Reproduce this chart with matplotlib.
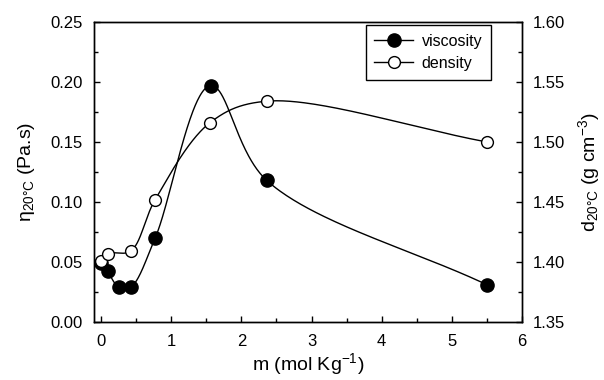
import numpy as np
import matplotlib
matplotlib.use('Agg')
import matplotlib.pyplot as plt
from matplotlib.lines import Line2D
from matplotlib.ticker import MultipleLocator

plt.rcParams['font.family'] = ['Liberation Sans', 'DejaVu Sans']
plt.rcParams['mathtext.fontset'] = 'custom'
plt.rcParams['mathtext.rm'] = 'Liberation Sans'
plt.rcParams['mathtext.default'] = 'regular'

# data
m_visc = [0.0, 0.09, 0.25, 0.42, 0.77, 1.56, 2.36, 5.5]
viscosity = [0.049, 0.042, 0.029, 0.029, 0.070, 0.197, 0.118, 0.031]

m_dens = [0.0, 0.10, 0.42, 0.77, 1.55, 2.36, 5.5]
density = [1.401, 1.407, 1.409, 1.452, 1.516, 1.534, 1.500]


def catmull(x, y, sx, sy, n=80, alpha=0.5):
    # centripetal catmull-rom through the points, measured in screen units
    P = np.column_stack([np.asarray(x, float) * sx, np.asarray(y, float) * sy])
    P = np.vstack([2 * P[0] - P[1], P, 2 * P[-1] - P[-2]])
    out = []
    for i in range(1, len(P) - 2):
        p0, p1, p2, p3 = P[i - 1], P[i], P[i + 1], P[i + 2]
        t0 = 0.0
        t1 = t0 + np.linalg.norm(p1 - p0) ** alpha
        t2 = t1 + np.linalg.norm(p2 - p1) ** alpha
        t3 = t2 + np.linalg.norm(p3 - p2) ** alpha
        t = np.linspace(t1, t2, n)[:, None]
        a1 = (t1 - t) / (t1 - t0) * p0 + (t - t0) / (t1 - t0) * p1
        a2 = (t2 - t) / (t2 - t1) * p1 + (t - t1) / (t2 - t1) * p2
        a3 = (t3 - t) / (t3 - t2) * p2 + (t - t2) / (t3 - t2) * p3
        b1 = (t2 - t) / (t2 - t0) * a1 + (t - t0) / (t2 - t0) * a2
        b2 = (t3 - t) / (t3 - t1) * a2 + (t - t1) / (t3 - t1) * a3
        out.append((t2 - t) / (t2 - t1) * b1 + (t - t1) / (t2 - t1) * b2)
    C = np.vstack(out)
    return C[:, 0] / sx, C[:, 1] / sy


fig = plt.figure(figsize=(6.04, 3.8), dpi=100)
ax = fig.add_axes([0.156, 0.153, 0.708, 0.789])
ax2 = ax.twinx()

xs, ys = catmull(m_visc, viscosity, 70, 1200)
ax.plot(xs, ys, color='black', lw=1, zorder=2)
ax.plot(m_visc, viscosity, 'o', ms=9.5, color='black', zorder=3)

xs, ys = catmull(m_dens, density, 70, 1200)
ax2.plot(xs, ys, color='black', lw=1, zorder=2)
ax2.plot(m_dens, density, 'o', ms=8.5, mfc='white', mec='black', mew=1, zorder=3)

ax.set_xlim(-0.1, 6)
ax.set_ylim(0, 0.25)
ax2.set_ylim(1.35, 1.60)

ax.xaxis.set_major_locator(MultipleLocator(1))
ax.xaxis.set_minor_locator(MultipleLocator(0.5))
ax.yaxis.set_major_locator(MultipleLocator(0.05))
ax.yaxis.set_minor_locator(MultipleLocator(0.025))
ax2.yaxis.set_major_locator(MultipleLocator(0.05))
ax2.yaxis.set_minor_locator(MultipleLocator(0.025))
ax.yaxis.set_major_formatter(plt.FormatStrFormatter('%.2f'))
ax2.yaxis.set_major_formatter(plt.FormatStrFormatter('%.2f'))

for a in (ax, ax2):
    a.tick_params(which='major', direction='in', length=4, width=1, labelsize=12, pad=8)
    a.tick_params(which='minor', direction='in', length=3, width=1)
    for s in a.spines.values():
        s.set_linewidth(1)
ax.tick_params(axis='x', pad=9)
ax.tick_params(top=False, right=False, which='both')

ax.set_xlabel('m (mol Kg$^{-1}$)', fontsize=14, labelpad=1)
ax.set_ylabel('η$_{20°C}$ (Pa.s)', fontsize=14, labelpad=10)
ax2.set_ylabel('d$_{20°C}$ (g cm$^{-3}$)', fontsize=14, labelpad=8)

handles = [
    Line2D([], [], color='black', lw=1, marker='o', ms=9.5, mfc='black', mec='black'),
    Line2D([], [], color='black', lw=1, marker='o', ms=8.5, mfc='white', mec='black'),
]
leg = ax2.legend(handles, ['viscosity', 'density'], loc='upper right',
                 bbox_to_anchor=(491 / 604, 1 - 25 / 380), bbox_transform=fig.transFigure,
                 borderaxespad=0, fancybox=False,
                 edgecolor='black', fontsize=11.5, handlelength=2.4,
                 framealpha=1, borderpad=0.55, labelspacing=0.45, handletextpad=0.55)
leg.get_frame().set_linewidth(1)

fig.savefig('out.png', dpi=100)
